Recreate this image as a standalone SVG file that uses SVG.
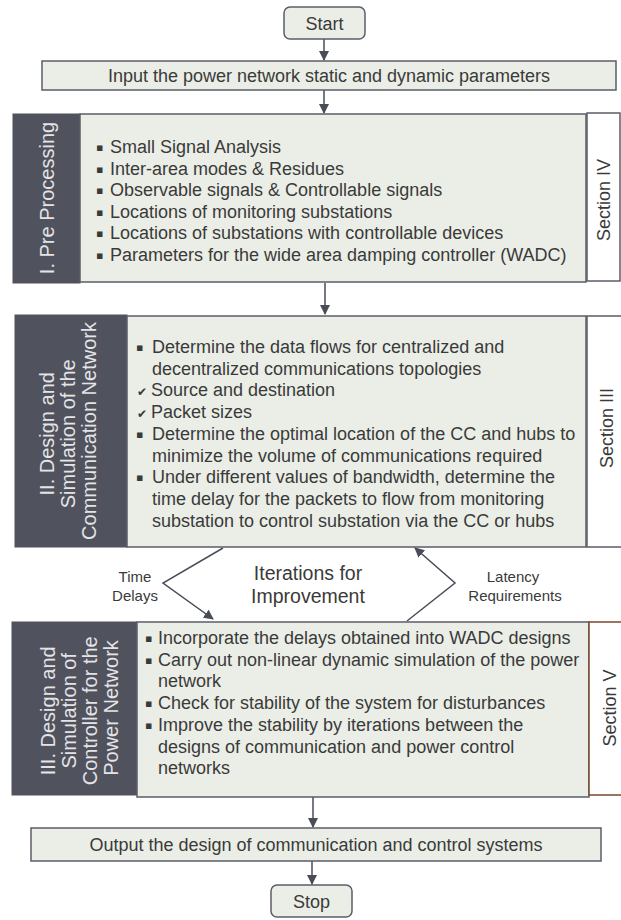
<svg xmlns="http://www.w3.org/2000/svg" width="621" height="920" viewBox="0 0 621 920">
<defs>
<style>
text{font-family:"Liberation Sans",Arial,sans-serif;fill:#3a3a3a}
.body{font-size:18px}
.side{font-size:20px;fill:#e4e4e6}
.sec{font-size:18px}
.small{font-size:15px}
.big{font-size:19.5px}
.light{fill:#eaeee6;stroke:#5b5d68;stroke-width:1.5}
.dark{fill:#50525d;stroke:#50525d}
.secbox{fill:#ffffff;stroke:#5b5d68;stroke-width:1.5}
.conn{stroke:#4a4c58;stroke-width:1.5;fill:none}
.bul{font-family:"DejaVu Sans",sans-serif;font-size:11px}
.chk{font-family:"DejaVu Sans",sans-serif;font-size:12px}
</style>
<marker id="ah" viewBox="0 0 10 10" refX="9" refY="5" markerWidth="10" markerHeight="10" markerUnits="userSpaceOnUse" orient="auto">
<path d="M0,0 L10,5 L0,10 z" fill="#4a4c58"/>
</marker>
</defs>

<g id="connectors">
<line class="conn" x1="324" y1="39" x2="324" y2="60" marker-end="url(#ah)"/>
<line class="conn" x1="324" y1="90" x2="324" y2="113" marker-end="url(#ah)"/>
<line class="conn" x1="325" y1="283" x2="325" y2="314" marker-end="url(#ah)"/>
<polyline class="conn" points="223,548 163,583 213,619" marker-end="url(#ah)"/>
<polyline class="conn" points="407,621 455,583 415,548" marker-end="url(#ah)"/>
<line class="conn" x1="313" y1="797" x2="313" y2="827" marker-end="url(#ah)"/>
<line class="conn" x1="312" y1="861" x2="312" y2="884" marker-end="url(#ah)"/>
</g>

<g id="start">
<rect x="284" y="7" width="81" height="32" rx="6" class="light"/>
<text class="body" x="324.5" y="29.5" text-anchor="middle">Start</text>
</g>

<g id="input">
<rect x="42" y="61" width="574" height="29" class="light"/>
<text class="body" x="329" y="82" text-anchor="middle">Input the power network static and dynamic parameters</text>
</g>

<g id="preprocessing">
<rect x="13" y="114" width="67" height="169" class="dark"/>
<rect x="80" y="114" width="506" height="168" class="light"/>
<text class="side" transform="translate(0,198) rotate(-90)" text-anchor="middle" x="0" y="54">I.  Pre Processing</text>
<text class="bul" x="96" y="151">▪</text><text class="body" x="110" y="153">Small Signal Analysis</text>
<text class="bul" x="96" y="172.6">▪</text><text class="body" x="110" y="174.6">Inter-area modes &amp; Residues</text>
<text class="bul" x="96" y="194.2">▪</text><text class="body" x="110" y="196.2">Observable signals &amp; Controllable signals</text>
<text class="bul" x="96" y="215.8">▪</text><text class="body" x="110" y="217.8">Locations of monitoring substations</text>
<text class="bul" x="96" y="237.4">▪</text><text class="body" x="110" y="239.4">Locations of substations with controllable devices</text>
<text class="bul" x="96" y="259">▪</text><text class="body" x="110" y="261">Parameters for the wide area damping controller (WADC)</text>
</g>
<g id="section4">
<rect x="587" y="113" width="33" height="168" class="secbox"/>
<text class="sec" transform="translate(0,200) rotate(-90)" text-anchor="middle" x="0" y="610">Section  IV</text>
</g>

<g id="communication">
<rect x="15" y="315" width="112" height="232" class="dark"/>
<rect x="127" y="316" width="459" height="231" class="light"/>
<text class="side" transform="translate(0,431) rotate(-90)" text-anchor="middle">
<tspan x="0" y="54">II.  Design and</tspan>
<tspan x="0" y="75">Simulation of the</tspan>
<tspan x="0" y="96">Communication Network</tspan>
</text>
<text class="bul" x="136" y="351">▪</text><text class="body" x="152" y="353">Determine the data flows for centralized and</text>
<text class="body" x="152" y="374.7">decentralized communications topologies</text>
<text class="chk" x="137" y="396.4">✔</text><text class="body" x="151" y="396.4">Source and destination</text>
<text class="chk" x="137" y="418.1">✔</text><text class="body" x="151" y="418.1">Packet sizes</text>
<text class="bul" x="136" y="437.8">▪</text><text class="body" x="152" y="439.8">Determine the optimal location of the CC and hubs to</text>
<text class="body" x="152" y="461.5">minimize the volume of communications required</text>
<text class="bul" x="136" y="481.2">▪</text><text class="body" x="152" y="483.2">Under different values of bandwidth, determine the</text>
<text class="body" x="152" y="504.9">time delay for the packets to flow from monitoring</text>
<text class="body" x="152" y="526.6">substation to control substation via the CC or hubs</text>
</g>
<g id="section3">
<rect x="587" y="316" width="36" height="231" class="secbox"/>
<text class="sec" transform="translate(0,428) rotate(-90)" text-anchor="middle" x="0" y="613">Section  III</text>
</g>

<g id="iteration-labels">
<text class="small" x="135" y="582" text-anchor="middle">Time</text>
<text class="small" x="135" y="601" text-anchor="middle">Delays</text>
<text class="big" x="308" y="580" text-anchor="middle">Iterations for</text>
<text class="big" x="308" y="603" text-anchor="middle">Improvement</text>
<text class="small" x="513" y="582" text-anchor="middle">Latency</text>
<text class="small" x="515" y="601" text-anchor="middle">Requirements</text>
</g>

<g id="controller">
<rect x="12" y="622" width="125" height="173" class="dark"/>
<rect x="137" y="622" width="452" height="175" class="light"/>
<text class="side" transform="translate(0,708) rotate(-90)" text-anchor="middle">
<tspan x="0" y="55">III.  Design and</tspan>
<tspan x="0" y="76">Simulation of</tspan>
<tspan x="0" y="97">Controller for the</tspan>
<tspan x="0" y="118">Power Network</tspan>
</text>
<text class="bul" x="145" y="642">▪</text><text class="body" x="158" y="644">Incorporate the delays obtained into WADC designs</text>
<text class="bul" x="145" y="663.7">▪</text><text class="body" x="158" y="665.7">Carry out non-linear dynamic simulation of the power</text>
<text class="body" x="158" y="687.4">network</text>
<text class="bul" x="145" y="707.1">▪</text><text class="body" x="158" y="709.1">Check for stability of the system for disturbances</text>
<text class="bul" x="145" y="728.8">▪</text><text class="body" x="158" y="730.8">Improve the stability by iterations between the</text>
<text class="body" x="158" y="752.5">designs of communication and power control</text>
<text class="body" x="158" y="774.2">networks</text>
</g>
<g id="section5">
<rect x="589" y="622" width="40" height="173" fill="#ffffff" stroke="#7a4a2c" stroke-width="1.5"/>
<text class="sec" transform="translate(0,708) rotate(-90)" text-anchor="middle" x="0" y="616">Section  V</text>
</g>

<g id="output">
<rect x="31" y="828" width="570" height="33" class="light"/>
<text class="body" x="316" y="851" text-anchor="middle">Output the design of communication and control systems</text>
</g>

<g id="stop">
<rect x="271" y="885" width="81" height="32" rx="6" class="light"/>
<text class="body" x="311.5" y="907.5" text-anchor="middle">Stop</text>
</g>
</svg>
